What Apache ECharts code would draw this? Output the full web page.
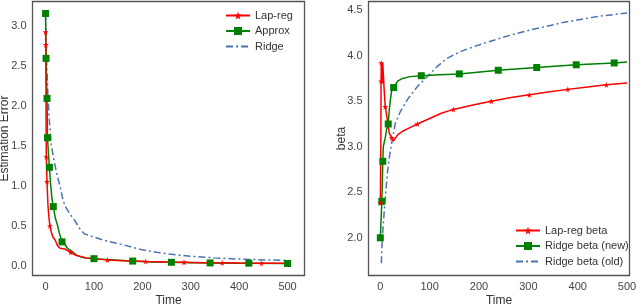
<!DOCTYPE html>
<html><head><meta charset="utf-8">
<script src="https://cdn.jsdelivr.net/npm/echarts@6/dist/echarts.min.js"></script>
<style>html,body{margin:0;padding:0;background:#fff}#c{width:640px;height:304px}</style>
</head><body><div id="c"></div>
<script>
// ---- Left panel: Estimation Error vs Time ----
const lapErrT = [0,0.5,1,1.5,3,5,7,9,12,15,20,25,30,40,52,60,70,85,100,128,160,207,250,286,330,365,400,446,500];
const lapErrV = [2.92,2.76,1.9,1.36,1.05,0.75,0.6,0.5,0.42,0.36,0.32,0.25,0.22,0.21,0.17,0.14,0.12,0.1,0.09,0.075,0.065,0.055,0.048,0.045,0.04,0.038,0.036,0.034,0.032];
const lapErrMarks = [0,0.5,1.5,3,9,52,128,207,286,365,446];

const apxErrT = [0,1,2,3,4,6,8,10,13,16,20,25,28,34,40,45,55,65,80,100,140,180,220,260,300,340,420,500];
const apxErrV = [3.15,2.59,2.3,2.09,1.6,1.4,1.23,1.05,0.85,0.74,0.6,0.5,0.42,0.3,0.27,0.22,0.18,0.13,0.1,0.09,0.075,0.06,0.05,0.045,0.04,0.037,0.034,0.03];
const apxErrMarks = [0,1,3,4,8,16,34,100,180,260,340,420,500];

const ridErrT = [0,2,5,8,12,18,25,30,35,40,50,60,70,80,100,126,150,181,200,229,260,300,350,400,450,500];
const ridErrV = [3.15,2.6,2.1,1.8,1.5,1.3,1.1,1.0,0.85,0.75,0.65,0.57,0.47,0.4,0.36,0.31,0.28,0.23,0.2,0.17,0.145,0.12,0.1,0.085,0.075,0.07];

// ---- Right panel: beta vs Time ----
const lapBetaT = [0,1,1.5,2,3,4,5,6,8,10,14,18,23,26,30,35,45,60,75,100,125,148,190,225,265,302,340,380,420,458,500];
const lapBetaV = [2.38,3.0,3.72,3.92,3.88,3.7,3.92,3.8,3.6,3.44,3.3,3.15,3.1,3.06,3.08,3.13,3.17,3.21,3.25,3.31,3.37,3.41,3.46,3.5,3.54,3.57,3.6,3.63,3.655,3.68,3.7];
const lapBetaMarks = [0,1.5,2,10,23,75,148,225,302,380,458];

const newBetaT = [0,3,4,5,6,8,10,13,16,18,20,23,27,30,35,45,60,83,120,160,239,317,397,474,500];
const newBetaV = [2.0,2.4,2.6,2.84,3.0,3.05,3.1,3.2,3.25,3.4,3.5,3.62,3.65,3.67,3.72,3.75,3.77,3.78,3.79,3.8,3.84,3.87,3.9,3.92,3.93];
const newBetaMarks = [0,3,5,16,27,83,160,239,317,397,474];

const oldBetaT = [2,4,8,11,15,20,30,40,55,75,97,115,135,160,190,218,260,310,375,440,500];
const oldBetaV = [1.72,2.0,2.3,2.5,2.75,2.95,3.25,3.38,3.52,3.66,3.78,3.88,3.97,4.04,4.1,4.15,4.22,4.29,4.37,4.43,4.47];

const leftTicksY = [0.0,0.5,1.0,1.5,2.0,2.5,3.0];
const rightTicksY = [2.0,2.5,3.0,3.5,4.0,4.5];
const ticksX = [0,100,200,300,400,500];

const STAR = 'path://M50,0 L61,35 L98,35 L68,57 L79,91 L50,70 L21,91 L32,57 L2,35 L39,35 Z';

function pts(t, v, marks) {
  return t.map((x, i) => {
    const item = { value: [x, v[i]] };
    if (!marks || marks.indexOf(x) < 0) item.symbol = 'none';
    return item;
  });
}

const FONT = 'Liberation Sans, Arial, sans-serif';
const RED = '#ff0000', GREEN = '#008000', BLUE = '#4c72b0';

function xAxis(idx, min, max) {
  return {
    type: 'value', gridIndex: idx, min: min, max: max,
    name: 'Time', nameLocation: 'middle', nameGap: 19, nameMoveOverlap: false,
    nameTextStyle: { fontFamily: FONT, fontSize: 12, color: '#333' },
    axisLine: { show: false }, axisTick: { show: false, customValues: ticksX }, splitLine: { show: false },
    axisLabel: { fontFamily: FONT, fontSize: 11, color: '#444', margin: 6, customValues: ticksX,
      formatter: v => String(Math.round(v)) }
  };
}
function yAxis(idx, min, max, name, gap, ticks) {
  return {
    type: 'value', gridIndex: idx, min: min, max: max,
    name: name, nameLocation: 'middle', nameGap: gap, nameRotate: 90, nameMoveOverlap: false,
    nameTextStyle: { fontFamily: FONT, fontSize: 12, color: '#333' },
    axisLine: { show: false }, axisTick: { show: false, customValues: ticks }, splitLine: { show: false },
    axisLabel: { fontFamily: FONT, fontSize: 11, color: '#444', margin: 6, customValues: ticks,
      formatter: v => Number(v).toFixed(1) }
  };
}

function line(name, xi, t, v, marks, color, symbol, size, dashed) {
  return {
    name: name, type: 'line', xAxisIndex: xi, yAxisIndex: xi,
    data: pts(t, v, marks), symbol: symbol, symbolSize: size, showSymbol: true, showAllSymbol: true,
    itemStyle: { color: color }, lineStyle: { color: color, width: 1.5, type: dashed ? [7, 3, 2, 3] : 'solid' },
    emphasis: { disabled: true }, animation: false, z: dashed ? 2 : 3
  };
}

const legText = { fontFamily: FONT, fontSize: 11, color: '#333' };
const chart = echarts.init(document.getElementById('c'), null, { renderer: 'canvas' });
chart.setOption({
  animation: false,
  grid: [
    { left: 32.5, right: 335.5, top: 1.5, bottom: 28.5, show: true, borderColor: '#555', borderWidth: 1.3, backgroundColor: '#fff', containLabel: false, outerBoundsMode: 'none' },
    { left: 368.5, right: 10.5, top: 1.5, bottom: 28.5, show: true, borderColor: '#555', borderWidth: 1.3, backgroundColor: '#fff', containLabel: false, outerBoundsMode: 'none' }
  ],
  xAxis: [xAxis(0, -27, 535), xAxis(1, -24, 505)],
  yAxis: [
    yAxis(0, -0.12, 3.3, 'Estimation Error', 22, leftTicksY),
    yAxis(1, 1.586, 4.595, 'beta', 21, rightTicksY)
  ],
  legend: [
    { data: ['Lap-reg', 'Approx', { name: 'Ridge', itemStyle: { opacity: 0 } }], orient: 'vertical', left: 225, top: 10, padding: 0,
      itemWidth: 24, itemHeight: 10, itemGap: 4.5, textStyle: legText, selectedMode: false },
    { data: ['Lap-reg beta', 'Ridge beta (new)', { name: 'Ridge beta (old)', itemStyle: { opacity: 0 } }], orient: 'vertical', left: 515, top: 225, padding: 0,
      itemWidth: 24, itemHeight: 10, itemGap: 4.5, textStyle: legText, selectedMode: false }
  ],
  series: [
    line('Ridge', 0, ridErrT, ridErrV, null, BLUE, 'none', 0, true),
    line('Approx', 0, apxErrT, apxErrV, apxErrMarks, GREEN, 'rect', 7, false),
    line('Lap-reg', 0, lapErrT, lapErrV, lapErrMarks, RED, STAR, 6, false),
    line('Ridge beta (old)', 1, oldBetaT, oldBetaV, null, BLUE, 'none', 0, true),
    line('Ridge beta (new)', 1, newBetaT, newBetaV, newBetaMarks, GREEN, 'rect', 7, false),
    line('Lap-reg beta', 1, lapBetaT, lapBetaV, lapBetaMarks, RED, STAR, 6, false)
  ]
});
</script></body></html>
